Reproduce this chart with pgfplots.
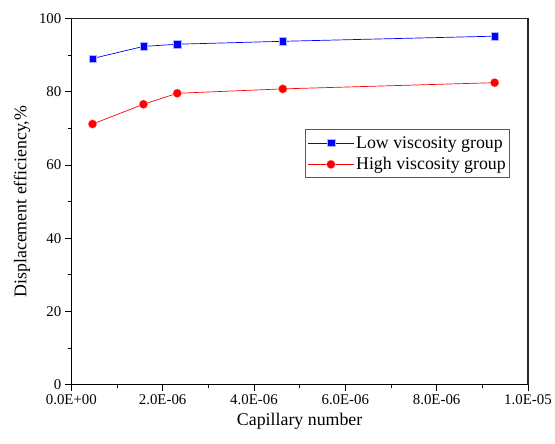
\documentclass[border=0pt]{standalone}
\usepackage{fontspec}
\setmainfont{Liberation Serif}
\usepackage{pgfplots}
\pgfplotsset{compat=1.18}
\usetikzlibrary{calc}

\begin{document}
\begin{tikzpicture}
\begin{axis}[
  name=main,
  scale only axis,
  width=459bp, height=368bp,
  xmin=0, xmax=1e-5,
  ymin=0, ymax=100,
  scaled x ticks=false,
  xtick={0,2e-6,4e-6,6e-6,8e-6,1e-5},
  xticklabels={\textrm{0.0E+00},\textrm{2.0E-06},\textrm{4.0E-06},\textrm{6.0E-06},\textrm{8.0E-06},\textrm{1.0E-05}},
  ytick={0,20,40,60,80,100},
  yticklabels={\textrm{0},\textrm{20},\textrm{40},\textrm{60},\textrm{80},\textrm{100}},
  minor x tick num=1,
  minor y tick num=1,
  tick align=outside,
  xtick pos=bottom,
  ytick pos=left,
  major tick length=6.5bp,
  minor tick length=3.5bp,
  axis line style={line width=1pt},
  xtick style={black, line width=0.8pt},
  ytick style={black, line width=0.8pt},
  /pgf/number format/assume math mode=true,
  tick label style={font=\rmfamily\fontsize{15}{17}\selectfont},
  label style={font=\rmfamily\fontsize{18}{20}\selectfont},
  xlabel={Capillary number},
  ylabel={Displacement efficiency,\%},
  xlabel style={yshift=-2bp},
  ylabel style={yshift=2bp},
  legend style={
    at={(0.961,0.6975)}, anchor=north east,
    draw=gray!70!black, line width=0.8pt,
    font=\rmfamily\fontsize{18}{21}\selectfont,
    inner xsep=2bp, inner ysep=4.5bp,
    row sep=4bp,
    cells={anchor=west},
  },
  legend image code/.code={%
    \draw[mark repeat=2,mark phase=2] plot coordinates {(0bp,0bp) (23bp,0bp) (46bp,0bp)};},
]
\addplot[blue, line width=0.7pt, mark=square*, mark size=3.8bp,
  mark options={solid, fill=blue, draw=blue!30!white, line width=0.3pt}]
  coordinates {
    (4.64e-7,89.1)
    (1.58e-6,92.4)
    (2.32e-6,93.0)
    (4.63e-6,93.8)
    (9.27e-6,95.2)
  };
\addlegendentry{Low viscosity group}
\addplot[red, line width=0.7pt, mark=*, mark size=4.4bp,
  mark options={solid, fill=red, draw=red!30!white, line width=0.3pt}]
  coordinates {
    (4.64e-7,71.2)
    (1.58e-6,76.6)
    (2.32e-6,79.6)
    (4.63e-6,80.8)
    (9.27e-6,82.5)
  };
\addlegendentry{High viscosity group}
\end{axis}
% closing frame on the top and right sides
\draw[line width=1.6pt, black!85]
  (main.north west) -- (main.north east) -- (main.south east);
% margins around the plot area
\path ($(main.south west)+(-71.7bp,-59.3bp)$) rectangle ($(main.north east)+(24.5bp,18.7bp)$);
\end{tikzpicture}
\end{document}
